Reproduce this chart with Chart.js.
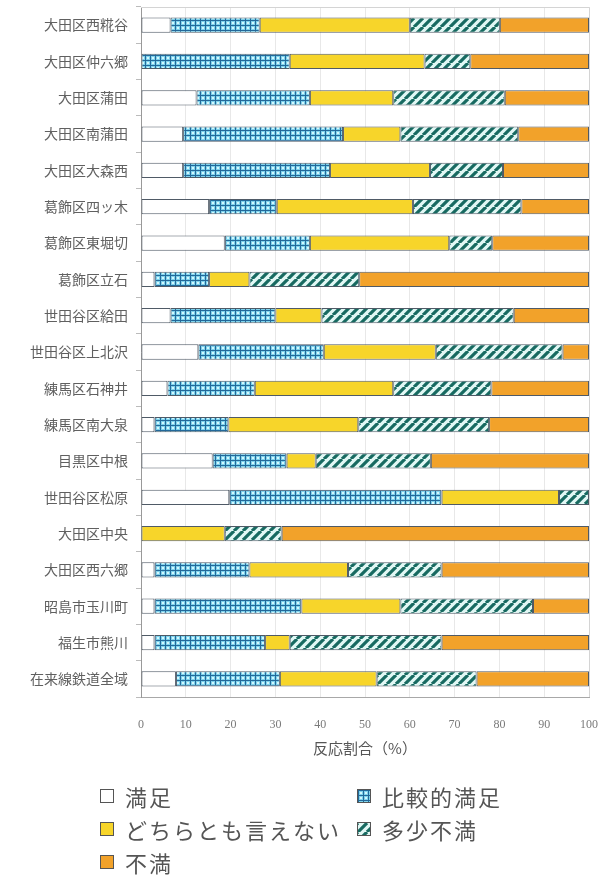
<!DOCTYPE html>
<html lang="ja">
<head>
<meta charset="utf-8">
<title>反応割合</title>
<script src="https://cdn.jsdelivr.net/npm/chart.js@4/dist/chart.umd.min.js"></script>
<style>
  html, body { margin: 0; padding: 0; background: #fff; }
  #wrap { position: relative; width: 603px; height: 876px; }
  #chart { position: absolute; left: 0; top: 0; }
  #legend {
    position: absolute; left: 100px; top: 781px;
    display: grid; grid-template-columns: 257px auto; row-gap: 3px;
    font-family: "Noto Sans CJK JP", sans-serif; font-size: 22px;
    letter-spacing: 2px; color: #555; line-height: 30px;
  }
  .item { display: flex; align-items: center; white-space: nowrap; }
  .item canvas { width: 14px; height: 14px; margin-right: 11px; box-sizing: border-box; border: 1px solid #555; }
</style>
</head>
<body>
<div id="wrap">
  <canvas id="chart" width="603" height="876"></canvas>
  <div id="legend"></div>
</div>
<script>
// Survey districts, top to bottom
const categories = [
  '大田区西糀谷', '大田区仲六郷', '大田区蒲田', '大田区南蒲田', '大田区大森西',
  '葛飾区四ッ木', '葛飾区東堀切', '葛飾区立石', '世田谷区給田', '世田谷区上北沢',
  '練馬区石神井', '練馬区南大泉', '目黒区中根', '世田谷区松原', '大田区中央',
  '大田区西六郷', '昭島市玉川町', '福生市熊川', '在来線鉄道全域'
];

const seriesNames = ['満足', '比較的満足', 'どちらとも言えない', '多少不満', '不満'];

// Response shares (%) per district
const satisfied        = [6.6, null, 12.4, 9.4, 9.4, 15.2, 18.7, 3.0, 6.6, 12.8, 5.9, 3.0, 16.0, 19.7, null, 3.0, 3.0, 3.0, 7.8];
const fairlySatisfied  = [19.9, 33.2, 25.3, 35.7, 32.8, 15.1, 19.0, 12.2, 23.4, 28.0, 19.5, 16.5, 16.5, 47.4, null, 21.2, 32.8, 24.7, 23.2];
const neutral          = [33.5, 30.1, 18.6, 12.8, 22.3, 30.4, 31.1, 9.0, 10.3, 25.0, 30.9, 29.0, 6.5, 26.2, 18.7, 22.0, 22.1, 5.5, 21.6];
const somewhatUnhappy  = [20.1, 10.2, 24.9, 26.3, 16.3, 24.2, 9.6, 24.5, 42.9, 28.3, 21.9, 29.2, 25.7, 6.7, 12.7, 20.9, 29.6, 33.9, 22.3];
const dissatisfied     = [19.9, 26.5, 18.8, 15.8, 19.2, 15.1, 21.6, 51.3, 16.8, 5.9, 21.8, 22.3, 35.3, null, 68.6, 32.9, 12.5, 32.9, 25.1];

const axisTitle = '反応割合（%）';

// Fill patterns
function gridPattern() {
  const c = document.createElement('canvas');
  c.width = 5; c.height = 5;
  const g = c.getContext('2d');
  g.fillStyle = '#7fd3ec'; g.fillRect(0, 0, 5, 5);
  g.fillStyle = '#d3f6fd'; g.fillRect(2, 2, 2, 2);
  g.fillStyle = '#23699a'; g.fillRect(0, 0, 5, 1); g.fillRect(0, 0, 1, 5);
  return c;
}
function hatchPattern() {
  const s = 9;
  const c = document.createElement('canvas');
  c.width = s; c.height = s;
  const g = c.getContext('2d');
  g.fillStyle = '#e2f8f5'; g.fillRect(0, 0, s, s);
  g.strokeStyle = '#176a61'; g.lineWidth = 3.2;
  g.beginPath();
  for (const o of [-s, 0, s]) { g.moveTo(o, s); g.lineTo(o + s, 0); }
  g.stroke();
  return c;
}

const ctxMain = document.getElementById('chart').getContext('2d');
const fills = [
  '#ffffff',
  ctxMain.createPattern(gridPattern(), 'repeat'),
  '#f7d52a',
  ctxMain.createPattern(hatchPattern(), 'repeat'),
  '#f2a22a'
];
const tiles = [null, gridPattern, null, hatchPattern, null];
const seriesData = [satisfied, fairlySatisfied, neutral, somewhatUnhappy, dissatisfied];

const datasets = seriesNames.map((name, i) => ({
  label: name,
  data: seriesData[i],
  backgroundColor: fills[i],
  borderColor: '#4f5a66',
  borderWidth: 1,
  borderSkipped: false,
  barPercentage: 0.42,
  categoryPercentage: 1.0
}));

// Light frame around the plotting area
const frame = {
  id: 'frame',
  beforeDatasetsDraw(chart) {
    const a = chart.chartArea, c = chart.ctx;
    c.save();
    c.strokeStyle = '#d4d4d4'; c.lineWidth = 1;
    c.beginPath();
    c.moveTo(a.left, a.top + 0.5); c.lineTo(a.right + 0.5, a.top + 0.5); c.lineTo(a.right + 0.5, a.bottom);
    c.stroke();
    c.restore();
  }
};

new Chart(ctxMain, {
  type: 'bar',
  data: { labels: categories, datasets },
  plugins: [frame],
  options: {
    indexAxis: 'y',
    responsive: false,
    animation: false,
    layout: { padding: { left: 0, right: 14, top: 7, bottom: 115 } },
    plugins: { legend: { display: false }, tooltip: { enabled: false } },
    scales: {
      x: {
        stacked: true, min: 0, max: 100,
        ticks: { stepSize: 10, padding: 21, color: '#7a7a7a', font: { family: '"Liberation Serif", serif', size: 12 } },
        grid: { color: '#e8e8e8', drawTicks: false },
        border: { color: '#a8a8a8' },
        title: { display: true, text: axisTitle, color: '#555', font: { family: '"Noto Sans CJK JP", sans-serif', size: 15 }, padding: { top: 4, bottom: 4 } },
        afterFit(scale) { scale.height = 64; scale.paddingLeft = 0; scale.paddingRight = 0; }
      },
      y: {
        stacked: true,
        ticks: { color: '#606060', padding: 8, font: { family: '"Noto Sans CJK JP", sans-serif', size: 14 } },
        grid: { drawOnChartArea: false, drawTicks: true, tickLength: 5, color: '#bbbbbb' },
        border: { color: '#999999' },
        afterFit(scale) { scale.width = 141; scale.paddingTop = 0; scale.paddingBottom = 0; }
      }
    }
  }
});

// Legend in two columns below the chart
const legend = document.getElementById('legend');
seriesNames.forEach((name, i) => {
  const item = document.createElement('div');
  item.className = 'item';
  const sw = document.createElement('canvas');
  sw.width = 12; sw.height = 12;
  const g = sw.getContext('2d');
  g.fillStyle = tiles[i] ? g.createPattern(tiles[i](), 'repeat') : fills[i];
  g.fillRect(0, 0, 12, 12);
  item.appendChild(sw);
  const t = document.createElement('span');
  t.textContent = name;
  item.appendChild(t);
  legend.appendChild(item);
});
</script>
</body>
</html>
